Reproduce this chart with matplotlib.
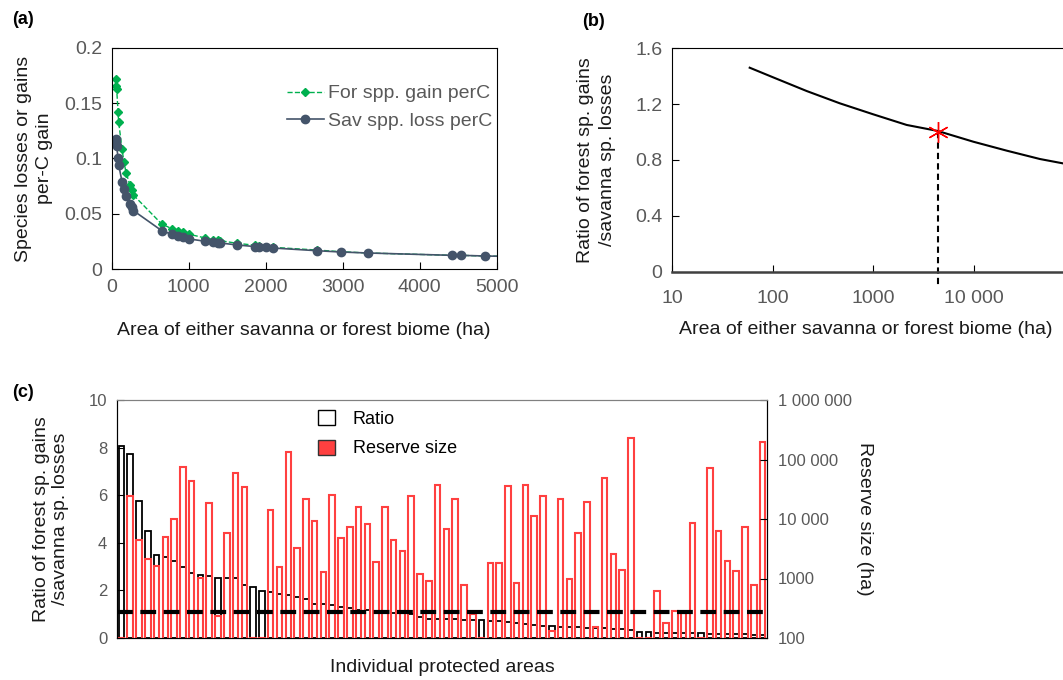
import matplotlib
matplotlib.use("Agg")
import matplotlib.pyplot as plt
from matplotlib.patches import Patch
import matplotlib.ticker as mticker

plt.rcParams['font.family'] = ['Liberation Sans', 'DejaVu Sans']

# ---------------- Panel (a) data ----------------
area_a = [56, 62, 65, 82, 90, 134, 160, 186, 238, 259, 281, 649, 779, 857, 930, 1008,
          1212, 1320, 1385, 1407, 1623, 1861, 1918, 2010, 2099, 2662, 2975, 3334,
          4425, 4533, 4849, 5500]
for_gain = [0.1718, 0.1655, 0.1625, 0.1424, 0.1333, 0.1083, 0.0966, 0.0873, 0.0759,
            0.0717, 0.0671, 0.0409, 0.0367, 0.0349, 0.0334, 0.0316, 0.0283, 0.0268,
            0.0262, 0.0259, 0.0235, 0.0217, 0.0211, 0.0204, 0.0198, 0.0174, 0.0159,
            0.0147, 0.0126, 0.0126, 0.0120, 0.0112]
sav_loss = [0.1174, 0.1137, 0.1116, 0.1002, 0.0945, 0.0791, 0.0722, 0.0660, 0.0587,
            0.0566, 0.0530, 0.0349, 0.0316, 0.0304, 0.0289, 0.0274, 0.0253, 0.0244,
            0.0241, 0.0238, 0.0220, 0.0205, 0.0205, 0.0198, 0.0192, 0.0168, 0.0156,
            0.0147, 0.0126, 0.0126, 0.0120, 0.0112]

# ---------------- Panel (b) data ----------------
area_b = [59, 101, 218, 466, 1005, 2160, 4400, 9960, 21400, 45900, 77600, 120000]
ratio_b = [1.461, 1.392, 1.294, 1.206, 1.127, 1.051, 1.008, 0.931, 0.867, 0.807, 0.776, 0.745]
threshold_area = 4400
threshold_ratio = 1.0
b_ticks = [10, 100, 1000, 10000]
b_ticklabels = ['10', '100', '1000', '10 000']

# ---------------- Panel (c) data ----------------
ratio_c = [8.08, 7.72, 5.76, 4.50, 3.50, 3.39, 3.24, 3.00, 2.72, 2.65, 2.62, 2.51, 2.51,
           2.51, 2.24, 2.16, 1.96, 1.92, 1.86, 1.79, 1.71, 1.65, 1.43, 1.41, 1.39, 1.32,
           1.28, 1.19, 1.16, 1.11, 1.09, 1.07, 1.05, 0.99, 0.89, 0.81, 0.81, 0.79, 0.79,
           0.77, 0.76, 0.76, 0.70, 0.70, 0.66, 0.63, 0.59, 0.53, 0.50, 0.49, 0.48, 0.46,
           0.45, 0.44, 0.42, 0.41, 0.38, 0.36, 0.34, 0.26, 0.24, 0.21, 0.20, 0.20, 0.19,
           0.19, 0.19, 0.17, 0.17, 0.16, 0.15, 0.15, 0.13, 0.13]
reserve_size = [100, 24000, 4400, 2100, 1600, 4900, 10000, 76000, 43000, 1020, 18600, 230,
                5900, 59000, 34000, 100, 100, 14000, 1560, 134000, 3240, 21900, 9100, 1290,
                25000, 4800, 7300, 16000, 8100, 1870, 15800, 4450, 2940, 24600, 1190, 910,
                37000, 6700, 21900, 770, 250, 100, 1800, 1800, 35600, 830, 37300, 11300,
                24600, 128, 21900, 990, 5800, 19200, 150, 48000, 2580, 1410, 229000, 100,
                100, 620, 180, 280, 260, 8500, 100, 72000, 6200, 2000, 1350, 7400, 770,
                200000]
ratio_threshold_c = 1.1
right_ticks = [100, 1000, 10000, 100000, 1000000]
right_ticklabels = ['100', '1000', '10 000', '100 000', '1 000 000']

TICK_C = '#595959'
LABEL_C = '#1a1a1a'
GREEN = '#00B04F'
SLATE = '#44546A'
RED = '#FF4040'

W, H = 1063, 680
fig = plt.figure(figsize=(W / 100, H / 100), dpi=100)

def rect(l, t, r, b):
    return [l / W, 1 - b / H, (r - l) / W, (b - t) / H]

# ---------- (a) ----------
axa = fig.add_axes(rect(111.7, 47.7, 496.7, 269.3))
axa.plot(area_a, for_gain, ls='--', color=GREEN, lw=1.0, marker='D', ms=4.5,
         mfc=GREEN, mec=GREEN, label='For spp. gain perC')
axa.plot(area_a, sav_loss, ls='-', color=SLATE, lw=1.2, marker='o', ms=6,
         mfc=SLATE, mec=SLATE, label='Sav spp. loss perC')
axa.set_xlim(0, 5000)
axa.set_ylim(0, 0.2)
axa.set_xticks([0, 1000, 2000, 3000, 4000, 5000])
axa.set_yticks([0, 0.05, 0.1, 0.15, 0.2])
axa.set_yticklabels(['0', '0.05', '0.1', '0.15', '0.2'])
axa.tick_params(direction='in', labelsize=14, labelcolor=TICK_C, length=5, pad=7)
axa.set_xlabel('Area of either savanna or forest biome (ha)', fontsize=14,
               color=LABEL_C, labelpad=19)
axa.set_ylabel('Species losses or gains\nper-C gain', fontsize=14, color=LABEL_C,
               labelpad=8, linespacing=1.3)
leg = axa.legend(loc='upper right', bbox_to_anchor=(1.018, 0.885), frameon=False,
                 fontsize=14, handlelength=1.9, handletextpad=0.2, labelspacing=0.5,
                 borderaxespad=0.2)
for t in leg.get_texts():
    t.set_color(TICK_C)
fig.text(12 / W, 1 - 20 / H, '(a)', fontsize=13, fontweight='bold', va='center')

# ---------- (b) ----------
axb = fig.add_axes(rect(672.3, 48.3, 672.3 + 5 * 100.4, 271.7))
axb.set_xscale('log')
axb.plot(area_b, ratio_b, color='black', lw=1.5)
axb.plot([threshold_area, threshold_area], [threshold_ratio, -0.095], ls='--',
         color='black', lw=1.5, clip_on=False, dashes=(3, 2))
axb.plot([threshold_area], [threshold_ratio], marker=(6, 2, 0), ms=15, color='red',
         mew=1.0, ls='none')
axb.set_xlim(10, 1e6)
axb.set_ylim(0, 1.6)
axb.set_yticks([0, 0.4, 0.8, 1.2, 1.6])
axb.set_yticklabels(['0', '0.4', '0.8', '1.2', '1.6'])
axb.set_xticks(b_ticks)
axb.set_xticklabels(b_ticklabels)
axb.xaxis.set_minor_locator(mticker.NullLocator())
axb.tick_params(direction='in', labelsize=14, labelcolor=TICK_C, length=5, pad=7)
axb.tick_params(axis='x', pad=13)
axb.spines['bottom'].set_linewidth(1.8)
axb.spines['bottom'].set_color('#404040')
axb.set_xlabel('Area of either savanna or forest biome (ha)', fontsize=14,
               color=LABEL_C)
axb.xaxis.set_label_coords((866 - 672.3) / 502, -0.22)
axb.set_ylabel('Ratio of forest sp. gains\n/savanna sp. losses', fontsize=14,
               color=LABEL_C, labelpad=14, linespacing=1.35)
fig.text(582 / W, 1 - 22 / H, '(b)', fontsize=13, fontweight='bold', va='center')

# ---------- (c) ----------
axc = fig.add_axes(rect(117, 400, 767, 638))
xs = list(range(len(ratio_c)))
axc.bar(xs, ratio_c, width=0.63, facecolor='none', edgecolor='black', lw=1.3)
axc.set_ylim(0, 10)
axc.set_xlim(-0.5, len(ratio_c) - 0.5)
axc.set_yticks([0, 2, 4, 6, 8, 10])
axc.set_xticks([])
axc.tick_params(direction='in', labelsize=12, labelcolor=TICK_C, length=5, pad=7)
axc.set_ylabel('Ratio of forest sp. gains\n/savanna sp. losses', fontsize=14,
               color=LABEL_C, labelpad=14, linespacing=1.2)
axc.set_xlabel('Individual protected areas', fontsize=14, color=LABEL_C, labelpad=15)
axc.spines['top'].set_color('#808080')

axc2 = axc.twinx()
axc2.set_yscale('log')
axc2.bar(xs, reserve_size, width=0.63, bottom=1, facecolor='none', edgecolor=RED, lw=1.5)
axc2.plot([-0.5, len(ratio_c) - 0.5], [ratio_threshold_c, ratio_threshold_c],
          transform=axc.transData, color='black', lw=3, ls=(0, (3.8, 1.8)))
axc2.set_ylim(100, 1e6)
axc2.set_yticks(right_ticks)
axc2.set_yticklabels(right_ticklabels)
axc2.yaxis.set_minor_locator(mticker.NullLocator())
axc2.tick_params(direction='in', labelsize=12, labelcolor=TICK_C, length=5, pad=8)
axc2.set_ylabel('Reserve size (ha)', fontsize=14, color=LABEL_C, rotation=270,
                labelpad=15)
axc2.spines['top'].set_color('#808080')
axc2.set_xlim(-0.5, len(ratio_c) - 0.5)

handles = [Patch(facecolor='white', edgecolor='black', lw=1.0),
           Patch(facecolor=RED, edgecolor='#333333', lw=1.0)]
axc2.legend(handles, ['Ratio', 'Reserve size'], loc='upper left',
            bbox_to_anchor=(302 / W, 1 - 394 / H), bbox_transform=fig.transFigure,
            frameon=False, fontsize=13, handlelength=0.9, handleheight=0.9,
            handletextpad=1.0, labelspacing=0.65)
fig.text(12 / W, 1 - 393 / H, '(c)', fontsize=13, fontweight='bold', va='center')

fig.savefig('out.png', dpi=100)
